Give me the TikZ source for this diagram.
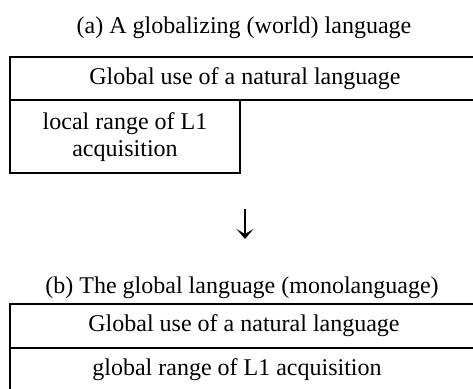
\documentclass[tikz,border=0pt]{standalone}
\usepackage{fontspec}
\setmainfont{Liberation Serif}
\usetikzlibrary{arrows.meta}
\begin{document}
\begin{tikzpicture}[x=1pt,y=-1pt,
  lbl/.style={inner sep=0pt,font=\fontsize{24}{27}\selectfont},
  frame/.style={draw=black,line width=1.5pt},
  downarrow/.style={line width=1.4pt,-{Stealth[length=10pt,width=17pt,inset=5pt]}}]
\useasboundingbox (0,0) rectangle (473,388);
\clip (0,0) rectangle (473,388);
% (a)
\node[lbl] (ta) at (244,28) {(a) A globalizing (world) language};
\draw[frame] (10,57) rectangle (490,100);
\node[lbl] (ga) at (245,79) {Global use of a natural language};
\draw[frame] (10,100) rectangle (240,173);
\node[lbl,align=center] (la) at (125,137) {local range of L1\\acquisition};
% arrow
\coordinate (arrtop) at (245,209);
\coordinate (arrbot) at (245,239);
\draw[downarrow] (arrtop) -- (arrbot);
% (b)
\node[lbl] (tb) at (242,288) {(b) The global language (monolanguage)};
\draw[frame] (10,304) rectangle (490,348);
\draw[frame] (10,348) rectangle (490,400);
\node[lbl] (gb) at (244,326) {Global use of a natural language};
\node[lbl] (lb) at (237,370) {global range of L1 acquisition};
\end{tikzpicture}
\end{document}
